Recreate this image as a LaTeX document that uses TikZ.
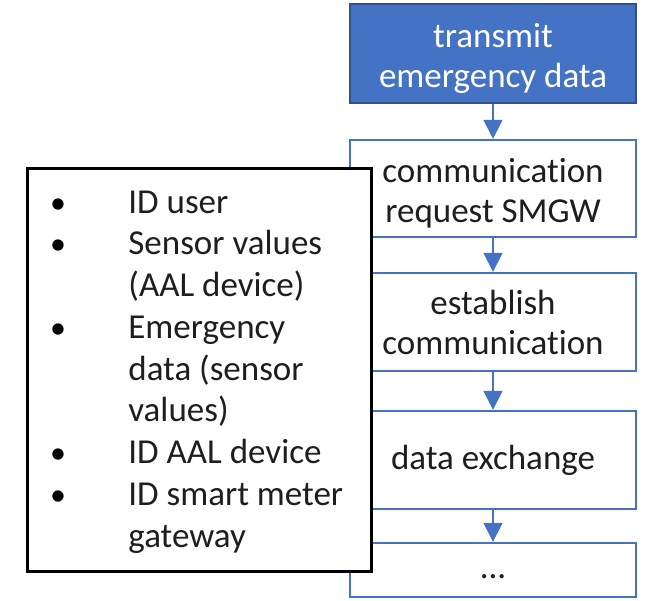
\documentclass[tikz,border=0pt]{standalone}
\usepackage{fontspec}
\setmainfont[Ligatures=NoCommon]{Carlito}
\usetikzlibrary{arrows.meta}
\definecolor{officeblue}{HTML}{4472C4}
\definecolor{officebluedark}{HTML}{2F528F}
\definecolor{inktext}{HTML}{1E1E1E}
% taller first line, to sit two-line labels a little lower in their boxes
\newcommand{\lowerlabel}{\rule{0pt}{17pt}}

\begin{document}
\begin{tikzpicture}[x=0.5pt,y=-0.5pt,
  flowbox/.style={draw=officeblue, line width=1.2pt, fill=white, minimum width=143pt,
    inner sep=0pt, align=center, text=inktext, font=\fontsize{17.5}{20}\selectfont},
  startbox/.style={flowbox, fill=officeblue, draw=officebluedark, text=white},
  flowarrow/.style={draw=officeblue, line width=0.75pt, -{Triangle[width=9.5pt,length=9.5pt]}},
  infobox/.style={draw=black, line width=1.5pt, fill=white, inner sep=0pt,
    minimum width=172pt, minimum height=201.5pt},
  listline/.style={anchor=base west, inner sep=0pt, text=inktext, font=\fontsize{17.5}{20}\selectfont},
  bulletmark/.style={anchor=base, inner sep=0pt, text=black, font=\fontsize{16}{20}\selectfont},
]
\useasboundingbox (0,0) rectangle (646,600);

% process chain
\node[startbox, minimum height=49.5pt] (transmit) at (493,53.5) {\lowerlabel transmit\\emergency data};
\node[flowbox, minimum height=48.5pt] (request) at (493,188.5) {\lowerlabel communication\\request SMGW};
\node[flowbox, minimum height=49pt] (establish) at (493,322) {establish\\communication};
\node[flowbox, minimum height=49pt] (exchange) at (493,460) {data exchange};
\node[flowbox, minimum height=27pt] (more) at (493,570) {\strut...};

\draw[flowarrow] (transmit) -- (request);
\draw[flowarrow] (request) -- (establish);
\draw[flowarrow] (establish) -- (exchange);
\draw[flowarrow] (exchange) -- (more);

% list of transmitted data
\node[infobox] (info) at (199,369.5) {};

\node[bulletmark] (b1) at (58,213) {•};
\node[bulletmark] (b2) at (58,254.75) {•};
\node[bulletmark] (b3) at (58,338.25) {•};
\node[bulletmark] (b4) at (58,463.5) {•};
\node[bulletmark] (b5) at (58,505.25) {•};

\node[listline] (l1) at (128,213) {ID user};
\node[listline] (l2) at (128,254.75) {Sensor values};
\node[listline] (l3) at (128,296.5) {(AAL device)};
\node[listline] (l4) at (128,338.25) {Emergency};
\node[listline] (l5) at (128,380) {data (sensor};
\node[listline] (l6) at (128,421.75) {values)};
\node[listline] (l7) at (128,463.5) {ID AAL device};
\node[listline] (l8) at (128,505.25) {ID smart meter};
\node[listline] (l9) at (128,547) {gateway};
\end{tikzpicture}
\end{document}
